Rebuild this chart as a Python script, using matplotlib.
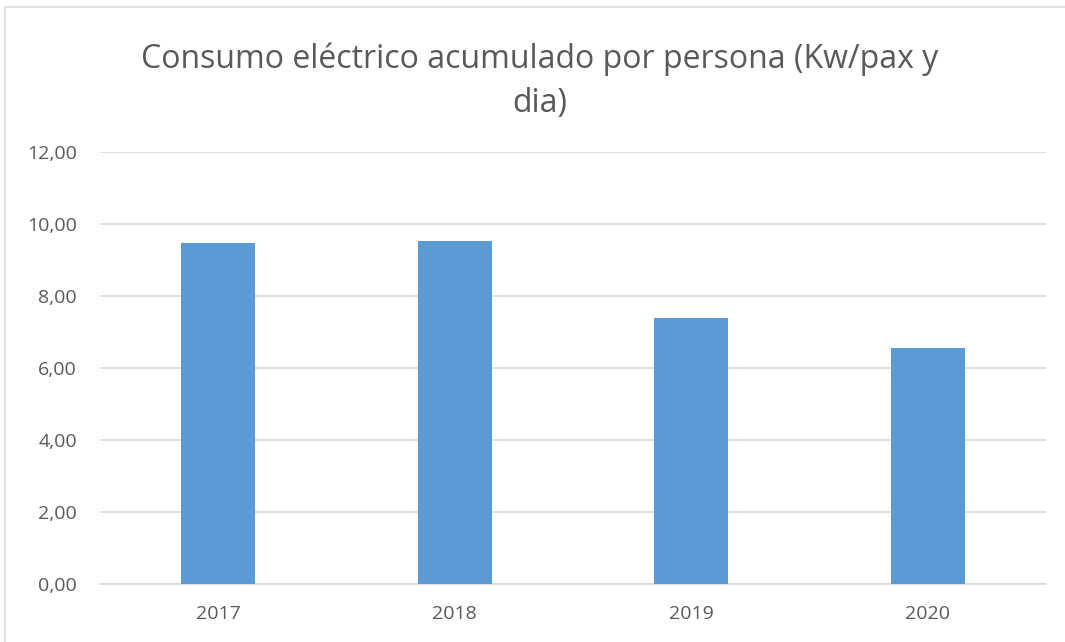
import matplotlib
matplotlib.use("Agg")
import matplotlib.pyplot as plt
from matplotlib.patches import Rectangle

years = ["2017", "2018", "2019", "2020"]
consumo = [9.47, 9.53, 7.38, 6.56]
yticks = [0, 2, 4, 6, 8, 10, 12]
ytick_labels = ["0,00", "2,00", "4,00", "6,00", "8,00", "10,00", "12,00"]

plt.rcParams["font.family"] = ["Open Sans", "DejaVu Sans"]
TXT = "#595959"
GRID = "#d9d9d9"

fig = plt.figure(figsize=(10.65, 6.42), dpi=100)
# chart frame (cut off at right/bottom like the screenshot)
fig.patches.append(Rectangle((5 / 1065, -0.1), 1.2, 1 - 7 / 642 + 0.1,
                             transform=fig.transFigure, fill=False,
                             edgecolor=GRID, lw=1.2))

ax = fig.add_axes([100 / 1065, 1 - 584 / 642, 946 / 1065, 432 / 642])
x = range(len(years))
ax.bar(x, consumo, width=0.313, color="#5b9bd5", zorder=3)
ax.set_xlim(-0.5, len(years) - 0.5)
ax.set_ylim(0, 12)
ax.set_yticks(yticks)
ax.set_yticklabels(ytick_labels)
ax.set_xticks(list(x))
ax.set_xticklabels(years)
ax.grid(axis="y", color=GRID, lw=1.2, zorder=0)
for s in ["top", "right", "left"]:
    ax.spines[s].set_visible(False)
ax.spines["bottom"].set_color(GRID)
ax.spines["bottom"].set_linewidth(1.2)
ax.tick_params(axis="both", length=0, colors=TXT, labelsize=14)
ax.tick_params(axis="y", pad=16.5)
ax.tick_params(axis="x", pad=15)

fig.text(540 / 1065, 1 - 81 / 642,
         "Consumo eléctrico acumulado por persona (Kw/pax y\ndia)",
         ha="center", va="center", fontsize=23, color=TXT, linespacing=1.45)

fig.savefig("out.png", dpi=100)
